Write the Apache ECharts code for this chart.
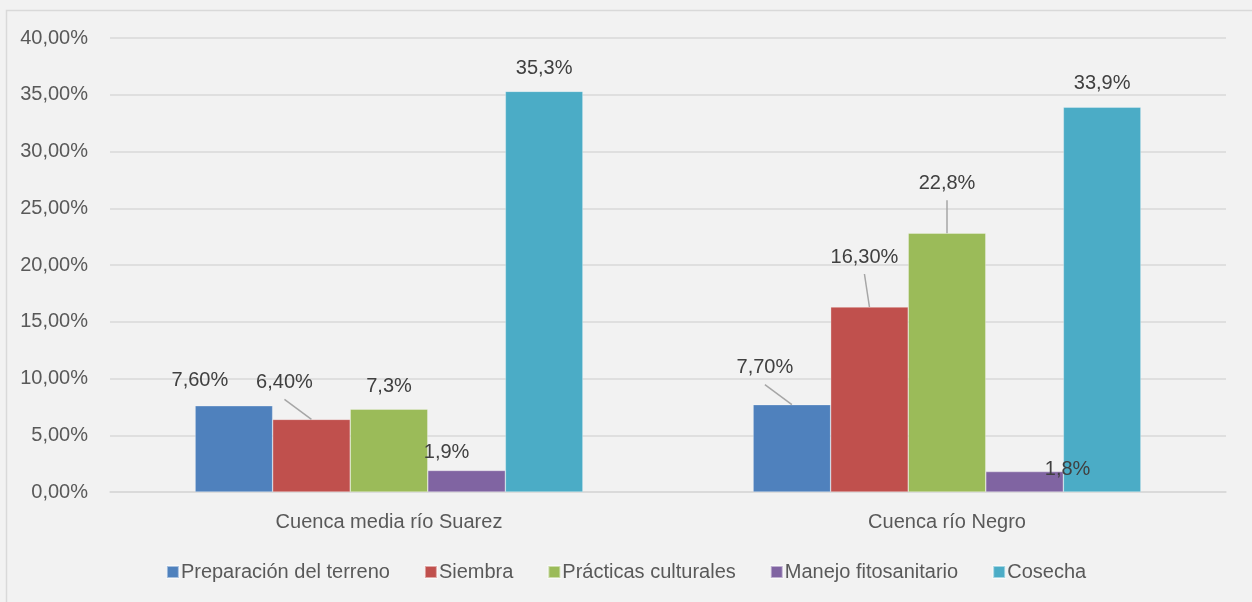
<!DOCTYPE html>
<html>
<head>
<meta charset="utf-8">
<script src="https://cdn.jsdelivr.net/npm/echarts@6/dist/echarts.min.js"></script>
<style>
  html, body { margin: 0; padding: 0; background: #ffffff; }
  #chart { width: 1252px; height: 602px; }
</style>
</head>
<body>
<div id="chart"></div>
<script>
// datos
const categorias = ['Cuenca media río Suarez', 'Cuenca río Negro'];
const nombres = ['Preparación del terreno', 'Siembra', 'Prácticas culturales', 'Manejo fitosanitario', 'Cosecha'];
const preparacion = [7.6, 7.7];
const siembra = [6.4, 16.3];
const practicas = [7.3, 22.8];
const manejo = [1.9, 1.8];
const cosecha = [35.3, 33.9];
const etiquetas = [
  ['7,60%', '7,70%'],
  ['6,40%', '16,30%'],
  ['7,3%', '22,8%'],
  ['1,9%', '1,8%'],
  ['35,3%', '33,9%']
];
const yTicks = [0, 5, 10, 15, 20, 25, 30, 35, 40];

const colores = ['#4f81bd', '#c0504d', '#9bbb59', '#8064a2', '#4bacc6'];
// desplazamiento de etiquetas [serie][categoria] = [dx, dy]
const desplaz = [
  [[-34, -10], [-27, -22]],
  [[-27, -22], [-5, -35]],
  [[0, -8], [0, -35]],
  [[-20, -3], [43, 13]],
  [[0, -8], [0, -9]]
];
// lineas guia
const guia = [
  [false, true],
  [true, true],
  [false, true],
  [false, false],
  [false, false]
];
const valores = [preparacion, siembra, practicas, manejo, cosecha];
const fuente = '"Liberation Sans Narrow", "Arial Narrow", "Liberation Sans", sans-serif';
const hueco = 0.305; // barCategoryGap

const chart = echarts.init(document.getElementById('chart'));

const series = valores.map(function (v, s) {
  return {
    name: nombres[s],
    type: 'bar',
    barGap: '0%',
    barCategoryGap: (hueco * 100) + '%',
    itemStyle: { color: colores[s], borderColor: 'rgba(255,255,255,0.5)', borderWidth: 0.6 },
    label: {
      show: true,
      position: 'top',
      distance: 5,
      fontFamily: fuente,
      fontSize: 20,
      color: '#404040',
      formatter: function (p) { return etiquetas[s][p.dataIndex]; }
    },
    labelLayout: function (p) {
      const d = desplaz[s][p.dataIndex];
      return { dx: d[0], dy: d[1] };
    },
    data: v
  };
});

// lineas guia de las etiquetas desplazadas
const guiaData = [];
valores.forEach(function (v, s) {
  v.forEach(function (x, i) {
    if (guia[s][i]) guiaData.push([i, x, s]);
  });
});

series.push({
  type: 'custom',
  name: 'guias',
  silent: true,
  z: 5,
  renderItem: function (params, api) {
    const ci = api.value(0), s = api.value(2);
    const top = api.coord([ci, api.value(1)]);
    const band = api.size([1, 0])[0];
    const grupo = band * (1 - hueco);
    const bw = grupo / valores.length;
    const cx = top[0] - grupo / 2 + bw * (s + 0.5);
    const d = desplaz[s][ci];
    return {
      type: 'line',
      shape: { x1: cx + d[0], y1: top[1] + d[1] + 2, x2: cx, y2: top[1] },
      style: { stroke: '#a6a6a6', lineWidth: 1.5 }
    };
  },
  data: guiaData
});

const option = {
  backgroundColor: '#f2f2f2',
  animation: false,
  textStyle: { fontFamily: fuente },
  grid: { left: 110, right: 26, top: 38, bottom: 110 },
  graphic: [{
    type: 'rect',
    left: 4, top: 8,
    shape: { width: 1260, height: 610 },
    style: { fill: 'none', stroke: '#d9d9d9', lineWidth: 1.5 },
    silent: true
  }],
  legend: {
    bottom: 15,
    left: 'center',
    itemWidth: 12,
    itemHeight: 12,
    itemGap: 34,
    icon: 'rect',
    textStyle: { fontFamily: fuente, fontSize: 20, color: '#595959', padding: [0, 0, 0, -3] },
    data: nombres
  },
  xAxis: {
    type: 'category',
    data: categorias,
    axisLine: { lineStyle: { color: '#d9d9d9', width: 1.5 } },
    axisTick: { show: false },
    axisLabel: { fontFamily: fuente, fontSize: 20, color: '#595959', margin: 20 }
  },
  yAxis: {
    type: 'value',
    min: yTicks[0],
    max: yTicks[yTicks.length - 1],
    interval: 5,
    axisLine: { show: false },
    axisTick: { show: false },
    splitLine: { lineStyle: { color: '#d9d9d9', width: 1.5 } },
    axisLabel: {
      fontFamily: fuente, fontSize: 20, color: '#595959', margin: 22,
      formatter: function (v) { return v.toFixed(2).replace('.', ',') + '%'; }
    }
  },
  series: series
};

chart.setOption(option);
</script>
</body>
</html>
